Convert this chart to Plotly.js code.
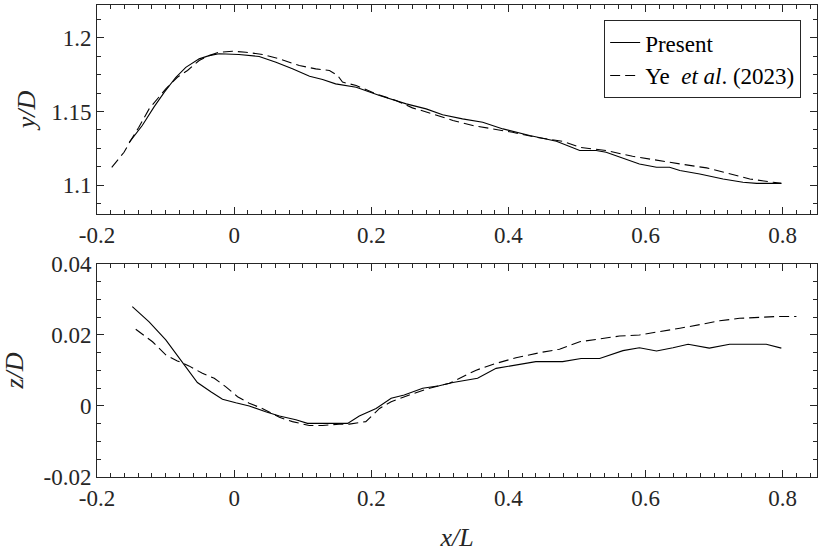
<!DOCTYPE html>
<html>
<head>
<meta charset="utf-8">
<script src="https://cdn.plot.ly/plotly-3.0.1.min.js"></script>
<style>
  html, body { margin: 0; padding: 0; background: #fff; }
  #graph { width: 830px; height: 552px; }
</style>
</head>
<body>
<div id="graph"></div>
<script>
// top panel: y/D against x/L
var presTopX = [-0.153, -0.134, -0.117, -0.102, -0.085, -0.0705, -0.051, -0.0365, -0.022, 0.007,
    0.0365, 0.061, 0.085, 0.11, 0.129, 0.148, 0.178, 0.212, 0.251, 0.28, 0.304, 0.333, 0.3625,
    0.392, 0.431, 0.47, 0.504, 0.528, 0.5425, 0.567, 0.591, 0.616, 0.635, 0.65, 0.679, 0.713,
    0.742, 0.762, 0.798]
var presTopY = [1.129, 1.1405, 1.153, 1.163, 1.1733, 1.18, 1.1858, 1.188, 1.1893, 1.1888,
    1.1874, 1.1835, 1.179, 1.174, 1.1718, 1.1688, 1.1665, 1.1609, 1.1552, 1.1518, 1.1478, 1.145,
    1.1427, 1.1382, 1.1337, 1.1298, 1.1235, 1.1235, 1.1223, 1.1185, 1.1144, 1.1121, 1.1121,
    1.1099, 1.1076, 1.1042, 1.1019, 1.1012, 1.1012]

var yeTopX = [-0.1785, -0.168, -0.1606, -0.151, -0.139, -0.124, -0.112, -0.0997, -0.0828, -0.068,
    -0.051, -0.0365, -0.022, -0.0025, 0.017, 0.0413, 0.0657, 0.095, 0.119, 0.139, 0.151, 0.158,
    0.178, 0.207, 0.236, 0.26, 0.2895, 0.319, 0.348, 0.377, 0.406, 0.44, 0.479, 0.504, 0.5425,
    0.581, 0.616, 0.65, 0.689, 0.7226, 0.752, 0.786, 0.798]
var yeTopY = [1.1121, 1.1178, 1.1223, 1.1303, 1.1393, 1.1518, 1.1586, 1.1654, 1.1733, 1.1779,
    1.1847, 1.188, 1.1903, 1.191, 1.1903, 1.1888, 1.1858, 1.1813, 1.179, 1.1779, 1.1745, 1.17,
    1.1677, 1.162, 1.1575, 1.1525, 1.1484, 1.1439, 1.1405, 1.1382, 1.1359, 1.1325, 1.1298,
    1.1257, 1.1235, 1.1196, 1.1167, 1.1144, 1.1117, 1.1076, 1.1042, 1.1019, 1.1012]

// bottom panel: z/D against x/L
var presBotX = [-0.1485, -0.124, -0.0997, -0.085, -0.0705, -0.0536, -0.034, -0.017, 0.0024, 0.022,
    0.046, 0.066, 0.09, 0.107, 0.139, 0.1655, 0.1825, 0.207, 0.229, 0.248, 0.275, 0.299, 0.319,
    0.355, 0.382, 0.411, 0.44, 0.479, 0.506, 0.533, 0.567, 0.591, 0.616, 0.64, 0.662, 0.693,
    0.7226, 0.776, 0.798]
var presBotY = [0.028, 0.0237, 0.0186, 0.0148, 0.0111, 0.0066, 0.004, 0.0019, 0.0009, 0,
    -0.0016, -0.0028, -0.0039, -0.0049, -0.0049, -0.0049, -0.0028, -0.0007, 0.0022, 0.0031,
    0.005, 0.0057, 0.0066, 0.0078, 0.0106, 0.0115, 0.0125, 0.0125, 0.0134, 0.0134, 0.0156,
    0.0164, 0.0155, 0.0164, 0.0174, 0.0163, 0.0174, 0.0174, 0.0163]

var yeBotX = [-0.1435, -0.119, -0.0997, -0.0828, -0.066, -0.0463, -0.029, -0.012, 0.005, 0.022,
    0.041, 0.066, 0.085, 0.1095, 0.129, 0.153, 0.168, 0.192, 0.212, 0.229, 0.2555, 0.285, 0.314,
    0.3285, 0.353, 0.382, 0.411, 0.445, 0.4745, 0.504, 0.533, 0.562, 0.591, 0.62, 0.65, 0.684,
    0.708, 0.737, 0.766, 0.791, 0.82]
var yeBotY = [0.0216, 0.0181, 0.0144, 0.0127, 0.0113, 0.0092, 0.0078, 0.0054, 0.0026, 0.0008,
    -0.0007, -0.0032, -0.0044, -0.0055, -0.0055, -0.0051, -0.0051, -0.0044, -0.0007, 0.0012,
    0.0031, 0.005, 0.0064, 0.0078, 0.0101, 0.012, 0.0136, 0.015, 0.016, 0.0181, 0.0189, 0.0197,
    0.02, 0.0209, 0.0219, 0.0231, 0.024, 0.0247, 0.025, 0.0252, 0.0252]

// tick labels (plain hyphen like the original)
var xTickVals = [-0.2, 0, 0.2, 0.4, 0.6, 0.8]
var xTickText = ['-0.2', '0', '0.2', '0.4', '0.6', '0.8']
var yTopTickVals = [1.1, 1.15, 1.2]
var yTopTickText = ['1.1', '1.15', '1.2']
var yBotTickVals = [-0.02, 0, 0.02, 0.04]
var yBotTickText = ['-0.02', '0', '0.02', '0.04']

var serif = '"Liberation Serif", "Times New Roman", serif'
var ink = '#262626'

var solidLine = {color: '#000', width: 1.1, dash: 'solid'}
var dashLine = {color: '#000', width: 1.1, dash: '10px,5px'}

var data = [
    {x: presTopX, y: presTopY, xaxis: 'x', yaxis: 'y', mode: 'lines', type: 'scatter',
        name: 'Present', line: solidLine},
    {x: yeTopX, y: yeTopY, xaxis: 'x', yaxis: 'y', mode: 'lines', type: 'scatter',
        name: 'Ye&nbsp; <i>et al</i>. (2023)', line: dashLine},
    {x: presBotX, y: presBotY, xaxis: 'x2', yaxis: 'y2', mode: 'lines', type: 'scatter',
        name: 'Present', line: solidLine, showlegend: false},
    {x: yeBotX, y: yeBotY, xaxis: 'x2', yaxis: 'y2', mode: 'lines', type: 'scatter',
        name: 'Ye et al. (2023)', line: dashLine, showlegend: false}
]

var tickFont = {family: serif, size: 23, color: ink}
var titleFont = {family: serif, size: 26, color: ink}

var layout = {
    width: 830, height: 552,
    margin: {l: 97, r: 13, t: 5, b: 75},
    font: {family: serif, color: ink},
    showlegend: true,
    legend: {x: 0.978, xanchor: 'right', y: 0.968, yanchor: 'top',
        bgcolor: '#fff', bordercolor: ink, borderwidth: 1,
        font: {family: serif, size: 23, color: '#000'}},
    xaxis: {domain: [0, 1], range: [-0.2, 0.85], anchor: 'y', tickmode: 'array',
        tickvals: xTickVals, ticktext: xTickText, tickfont: tickFont,
        showline: true, mirror: 'ticks', linecolor: ink, showgrid: false, zeroline: false,
        ticks: 'inside', ticklen: 7, tickcolor: ink,
        minor: {ticks: 'inside', ticklen: 4, tickcolor: ink, dtick: 0.02, tick0: 0, showgrid: false}},
    yaxis: {domain: [0.557, 1], range: [1.0803, 1.2224], anchor: 'x', tickmode: 'array',
        tickvals: yTopTickVals, ticktext: yTopTickText, tickfont: tickFont,
        showline: true, mirror: 'ticks', linecolor: ink, showgrid: false, zeroline: false,
        ticks: 'inside', ticklen: 7, tickcolor: ink,
        minor: {ticks: 'inside', ticklen: 4, tickcolor: ink, dtick: 0.0125, tick0: 1.1, showgrid: false},
        title: {text: '<i>y/D</i>', font: titleFont}},
    xaxis2: {domain: [0, 1], range: [-0.2, 0.85], anchor: 'y2', tickmode: 'array',
        tickvals: xTickVals, ticktext: xTickText, tickfont: tickFont,
        showline: true, mirror: 'ticks', linecolor: ink, showgrid: false, zeroline: false,
        ticks: 'inside', ticklen: 7, tickcolor: ink,
        minor: {ticks: 'inside', ticklen: 4, tickcolor: ink, dtick: 0.02, tick0: 0, showgrid: false},
        title: {text: '<i>x/L</i>', font: titleFont}},
    yaxis2: {domain: [0, 0.4513], range: [-0.02, 0.04], anchor: 'x2', tickmode: 'array',
        tickvals: yBotTickVals, ticktext: yBotTickText, tickfont: tickFont,
        showline: true, mirror: 'ticks', linecolor: ink, showgrid: false, zeroline: false,
        ticks: 'inside', ticklen: 7, tickcolor: ink,
        minor: {ticks: 'inside', ticklen: 4, tickcolor: ink, dtick: 0.005, tick0: 0, showgrid: false},
        title: {text: '<i>z/D</i>', font: titleFont, standoff: 12}}
}

Plotly.newPlot('graph', data, layout, {displayModeBar: false, staticPlot: true})
</script>
</body>
</html>
